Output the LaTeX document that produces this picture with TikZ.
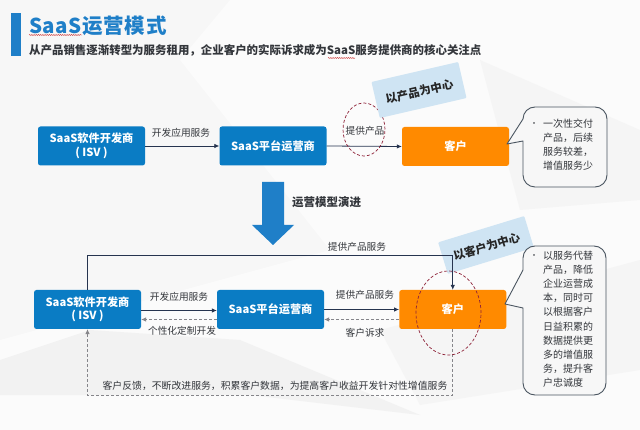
\documentclass[tikz,border=0pt]{standalone}
\usepackage{fontspec}
\setmainfont{Noto Sans CJK SC}
\usetikzlibrary{arrows.meta,shapes.geometric,decorations.pathmorphing}
\definecolor{boxblue}{HTML}{0A7CC4}
\definecolor{boxorange}{HTML}{FF8A00}
\definecolor{titleblue}{HTML}{1F7FC8}
\definecolor{bannerblue}{HTML}{CFE4F3}
\definecolor{linedark}{HTML}{26344F}
\definecolor{dashgrey}{HTML}{85858A}
\definecolor{ringred}{HTML}{8E2238}
\definecolor{inktext}{HTML}{33363B}
\definecolor{callline}{HTML}{4A5560}
\newcommand{\fsz}[1]{\fontsize{#1}{#1}\selectfont}
\tikzset{
  x=1pt,y=-1pt,
  procbox/.style={draw=none,rounded corners=2.5pt,minimum width=107pt,minimum height=39pt,inner sep=0pt,align=center,text=white,font=\fontsize{11.2}{13.5}\selectfont\bfseries},
  bluebox/.style={procbox,fill=boxblue},
  orangebox/.style={procbox,fill=boxorange},
  lab/.style={inner sep=0pt,text=inktext,font=\fsz{9.7}},
  flow/.style={draw=linedark,line width=.8pt,-{Latex[length=5pt,width=4.5pt]}},
  backflow/.style={draw=dashgrey,line width=.7pt,densely dashed,-{Latex[length=5pt,width=4.5pt]}},
  ring/.style={ellipse,draw=ringred,line width=.7pt,densely dashed,inner sep=0pt},
  banner/.style={fill=bannerblue,rounded corners=1pt,inner sep=0pt,text=black!85,font=\fsz{11.5}\bfseries},
  calloutline/.style={draw=callline,line width=.9pt,fill=white!97!black,line join=round},
  calltext/.style={inner sep=0pt,align=left,anchor=north west,text=inktext,font=\fontsize{10}{14.2}\selectfont},
  squig/.style={draw=red!75!black,line width=.35pt,decorate,decoration={snake,amplitude=.5pt,segment length=2.2pt}}
}
\begin{document}
\begin{tikzpicture}
\useasboundingbox (0,0) rectangle (640,430);
% background
\fill[white!97!black] (0,0) rectangle (640,430);
\fill[white!98.5!black] (230,0) -- (640,0) -- (640,430) -- (0,430) -- (0,340) -- (330,250) -- (180,60) -- cycle;
\fill[white!95!black] (0,360) -- (90,330) -- (240,340) -- (420,415) -- (250,395) -- (0,395) -- cycle;
\fill[white!96!black] (380,330) -- (640,260) -- (640,370) -- (420,405) -- cycle;
\fill[white!96!black] (480,60) -- (640,130) -- (640,200) -- (520,210) -- cycle;
% title
\fill[titleblue] (11,13) rectangle (21,56);
\node[anchor=west,inner sep=0pt,text=titleblue,font=\fsz{20.5}\bfseries] (title) at (29,26) {\addfontfeature{LetterSpace=3}SaaS运营模式};
\node[anchor=west,inner sep=0pt,text=inktext,font=\fsz{11.45}\bfseries] (subtitle) at (29,50) {从产品销售逐渐转型为服务租用，企业客户的实际诉求成为SaaS服务提供商的核心关注点};
\draw[squig] (29,35) -- (82,35);
\draw[squig] (328,58) -- (355,58);
% upper row
\node[bluebox] (isvA) at (91.5,146) {SaaS软件开发商\\( ISV )};
\node[bluebox] (platA) at (273,146) {SaaS平台运营商};
\node[orangebox] (custA) at (455.5,146.5) {客户};
\draw[flow] (isvA.east) -- (platA.west);
\draw[flow] (platA.east) -- (custA.west);
\node[lab] (labA1) at (181,133) {开发应用服务};
\node[lab] (labA2) at (365,131) {提供产品};
\node[ring,minimum width=42pt,minimum height=53pt] (ringA) at (364,129.5) {};
\node[banner,rotate=13,minimum width=89pt,minimum height=37pt] (bannerA) at (419,90) {\raisebox{-6pt}[0pt][0pt]{以产品为中心}};
% upper callout
\draw[calloutline] (523,119) arc[start angle=180,end angle=90,radius=12pt] -- (595,107)
  arc[start angle=90,end angle=0,radius=12pt] -- (607,175)
  arc[start angle=0,end angle=-90,radius=12pt] -- (535,187)
  arc[start angle=-90,end angle=-180,radius=12pt] -- (523,141) -- (507,144) -- cycle;
\node[inner sep=0pt,text=inktext,font=\fsz{8}] (bulA) at (534,125) {•};
\node[calltext] (callA) at (543,118.5) {一次性交付\\产品，后续\\服务较差，\\增值服务少};
% big arrow
\fill[titleblue] (262,182) -- (284,182) -- (284,225) -- (294,225) -- (273,245) -- (252,225) -- (262,225) -- cycle;
\node[anchor=west,inner sep=0pt,text=inktext,font=\fsz{11.5}\bfseries] (evo) at (292,202) {运营模型演进};
% lower row
\node[bluebox] (isvB) at (87.5,309.5) {SaaS软件开发商\\( ISV )};
\node[bluebox] (platB) at (270.5,309.5) {SaaS平台运营商};
\node[orangebox] (custB) at (452.75,309.5) {客户};
\coordinate (turnA) at (87.5,255);
\coordinate (turnB) at (87.5,395.5);
\node[banner,rotate=17,minimum width=90pt,minimum height=33pt] (bannerB) at (486,245) {\raisebox{-6pt}[0pt][0pt]{以客户为中心}};
\draw[flow] (isvB.north) -- (turnA) -| (custB.north);
\draw[flow] ([yshift=-1pt]isvB.east) -- ([yshift=-1pt]platB.west);
\draw[backflow] ([yshift=-10pt]platB.west) -- ([yshift=-10pt]isvB.east);
\draw[flow] (platB.east) -- (custB.west);
\draw[backflow] ([yshift=-10pt]custB.west) -- ([yshift=-10pt]platB.east);
\draw[backflow] (custB.south) |- (turnB) -- (isvB.south);
\node[lab] (labB0) at (357,247) {提供产品服务};
\node[lab] (labB1) at (179,297) {开发应用服务};
\node[lab] (labB2) at (182,331) {个性化定制开发};
\node[lab] (labB3) at (365,295) {提供产品服务};
\node[lab] (labB4) at (365,333) {客户诉求};
\node[lab,font=\fsz{9.85}] (labB5) at (275,386) {客户反馈，不断改进服务，积累客户数据，为提高客户收益开发针对性增值服务};
\node[ring,minimum width=65pt,minimum height=84pt] (ringB) at (448.5,313) {};
% lower callout
\draw[calloutline] (523,258) arc[start angle=180,end angle=90,radius=12pt] -- (594,246)
  arc[start angle=90,end angle=0,radius=12pt] -- (606,383)
  arc[start angle=0,end angle=-90,radius=12pt] -- (535,395)
  arc[start angle=-90,end angle=-180,radius=12pt] -- (523,308) -- (505,304) -- (523,270) -- cycle;
\node[inner sep=0pt,text=inktext,font=\fsz{8}] (bulB) at (534,257) {•};
\node[calltext] (callB) at (543,250.5) {以服务代替\\产品，降低\\企业运营成\\本，同时可\\以根据客户\\日益积累的\\数据提供更\\多的增值服\\务，提升客\\户忠诚度};
\end{tikzpicture}
\end{document}
